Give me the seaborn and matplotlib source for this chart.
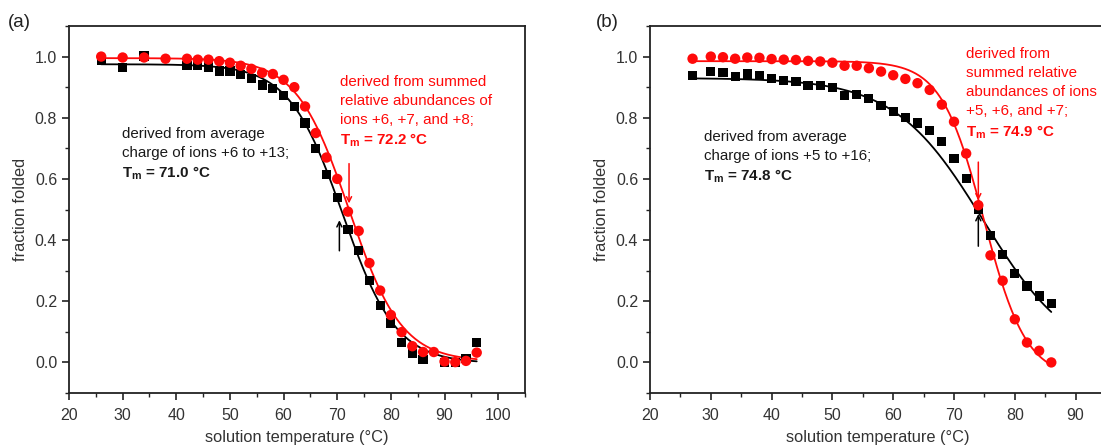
import numpy as np
import pandas as pd
import matplotlib
matplotlib.use("Agg")
import matplotlib.pyplot as plt
import seaborn as sns

# ---------------- data ----------------
# Panel (a)
a_red_T = [26, 30, 34, 38, 42, 44, 46, 48, 50, 52, 54, 56, 58, 60, 62, 64, 66, 68,
           70, 72, 74, 76, 78, 80, 82, 84, 86, 88, 90, 92, 94, 96]
a_red_f = [1.000, 0.997, 0.997, 0.993, 0.993, 0.990, 0.990, 0.985, 0.980, 0.970,
           0.960, 0.947, 0.943, 0.924, 0.900, 0.837, 0.750, 0.670, 0.600, 0.493,
           0.430, 0.325, 0.235, 0.155, 0.099, 0.053, 0.034, 0.034, 0.003, 0.001,
           0.005, 0.032]
a_blk_T = [26, 30, 34, 42, 44, 46, 48, 50, 52, 54, 56, 58, 60, 62, 64, 66, 68, 70,
           72, 74, 76, 78, 80, 82, 84, 86, 90, 92, 94, 96]
a_blk_f = [0.987, 0.965, 1.002, 0.972, 0.972, 0.966, 0.953, 0.953, 0.942, 0.929,
           0.907, 0.896, 0.873, 0.837, 0.783, 0.699, 0.615, 0.539, 0.434, 0.367,
           0.269, 0.187, 0.129, 0.064, 0.030, 0.009, 0.001, 0.000, 0.014, 0.064]

# Panel (b)
b_red_T = [27, 30, 32, 34, 36, 38, 40, 42, 44, 46, 48, 50, 52, 54, 56, 58, 60, 62,
           64, 66, 68, 70, 72, 74, 76, 78, 80, 82, 84, 86]
b_red_f = [0.993, 1.000, 0.998, 0.993, 0.997, 0.996, 0.992, 0.990, 0.989, 0.986,
           0.984, 0.980, 0.970, 0.970, 0.962, 0.951, 0.939, 0.927, 0.913, 0.891,
           0.843, 0.787, 0.683, 0.514, 0.350, 0.267, 0.141, 0.065, 0.038, 0.000]
b_blk_T = [27, 30, 32, 34, 36, 38, 40, 42, 44, 46, 48, 50, 52, 54, 56, 58, 60, 62,
           64, 66, 68, 70, 72, 74, 76, 78, 80, 82, 84, 86]
b_blk_f = [0.937, 0.952, 0.949, 0.936, 0.943, 0.937, 0.929, 0.922, 0.918, 0.905,
           0.905, 0.898, 0.872, 0.875, 0.864, 0.841, 0.821, 0.802, 0.783, 0.758,
           0.722, 0.667, 0.602, 0.500, 0.415, 0.354, 0.291, 0.250, 0.217, 0.193]

# Boltzmann fit parameters: (top, bottom, Tm, width, T_start, T_end)
a_red_fit = (0.995, 0.003, 72.2, 4.9, 26, 96)
a_blk_fit = (0.975, -0.003, 71.0, 5.0, 26, 96)
b_red_fit = (0.985, -0.050, 74.9, 3.5, 27, 86)
b_blk_fit = (0.930, 0.000, 74.8, 7.3, 27, 86)

# arrows: (x, y_from, y_to)
a_red_arrow = (72.2, 0.65, 0.52)
a_blk_arrow = (70.4, 0.365, 0.465)
b_red_arrow = (74.0, 0.655, 0.53)
b_blk_arrow = (74.0, 0.38, 0.485)

a_blk_text = ["derived from average", "charge of ions +6 to +13;", r"$\mathbf{T_m}$ = 71.0 °C"]
a_red_text = ["derived from summed", "relative abundances of", "ions +6, +7, and +8;", r"$\mathbf{T_m}$ = 72.2 °C"]
b_blk_text = ["derived from average", "charge of ions +5 to +16;", r"$\mathbf{T_m}$ = 74.8 °C"]
b_red_text = ["derived from", "summed relative", "abundances of ions", "+5, +6, and +7;", r"$\mathbf{T_m}$ = 74.9 °C"]

x_ticks_a = [20, 30, 40, 50, 60, 70, 80, 90, 100]
x_ticks_b = [20, 30, 40, 50, 60, 70, 80, 90]
y_ticks = [0.0, 0.2, 0.4, 0.6, 0.8, 1.0]

# ---------------- styling ----------------
sns.set_theme(style="ticks")
plt.rcParams["font.family"] = ["Liberation Sans", "DejaVu Sans"]
plt.rcParams["mathtext.fontset"] = "custom"
plt.rcParams["mathtext.rm"] = "Liberation Sans"
plt.rcParams["mathtext.bf"] = "Liberation Sans:bold"

RED = "#ff0a0a"
BLK = "#000000"
AX = "#222222"
TXT = "#333333"

fig = plt.figure(figsize=(11.01, 4.46), dpi=100)
W, H = 1101, 446
ax_a = fig.add_axes([69 / W, (446 - 393) / H, 456 / W, 367 / H])
ax_b = fig.add_axes([650 / W, (446 - 393) / H, 456 / W, 367 / H])


def boltz(params):
    top, bot, tm, dx, t0, t1 = params
    T = np.linspace(t0, t1, 300)
    f = bot + (top - bot) / (1 + np.exp((T - tm) / dx))
    return pd.DataFrame({"T": T, "f": f})


def panel(ax, redT, redf, blkT, blkf, redfit, blkfit, xlim, xticks):
    dr = boltz(redfit)
    dk = boltz(blkfit)
    sns.lineplot(data=dk, x="T", y="f", ax=ax, color=BLK, lw=1.3, zorder=2)
    sns.lineplot(data=dr, x="T", y="f", ax=ax, color=RED, lw=1.3, zorder=2)
    sns.scatterplot(x=blkT, y=blkf, ax=ax, marker="s", s=44, color=BLK,
                    edgecolor="none", zorder=3)
    sns.scatterplot(x=redT, y=redf, ax=ax, marker="o", s=56, color=RED,
                    edgecolor="none", zorder=4)
    ax.set_xlim(*xlim)
    ax.set_ylim(-0.1, 1.1)
    ax.set_xticks(xticks)
    ax.set_xticks(np.arange(xlim[0] + 5, xlim[1] + 0.1, 10), minor=True)
    ax.set_yticks(y_ticks)
    ax.set_yticklabels([f"{v:.1f}" for v in y_ticks])
    ax.set_yticks(np.arange(-0.1, 1.11, 0.2), minor=True)
    ax.tick_params(axis="x", which="major", pad=6)
    ax.tick_params(axis="both", which="major", direction="out", length=5, width=1.2,
                   color=AX, labelsize=11.5, labelcolor=TXT)
    ax.tick_params(axis="both", which="minor", direction="out", length=3, width=1.0,
                   color=AX)
    for s in ax.spines.values():
        s.set_color(AX)
        s.set_linewidth(1.3)
    ax.set_xlabel("solution temperature (°C)", fontsize=11.8, color=TXT, labelpad=5)
    ax.set_ylabel("fraction folded", fontsize=11.8, color=TXT, labelpad=5)


panel(ax_a, a_red_T, a_red_f, a_blk_T, a_blk_f, a_red_fit, a_blk_fit, (20, 105), x_ticks_a)
panel(ax_b, b_red_T, b_red_f, b_blk_T, b_blk_f, b_red_fit, b_blk_fit, (20, 95), x_ticks_b)


def arrow(ax, spec, color):
    x, y0, y1 = spec
    ax.annotate("", xy=(x, y1), xytext=(x, y0),
                arrowprops=dict(arrowstyle="->", color=color, lw=1.1,
                                shrinkA=0, shrinkB=0, mutation_scale=9))


arrow(ax_a, a_red_arrow, RED)
arrow(ax_a, a_blk_arrow, BLK)
arrow(ax_b, b_red_arrow, RED)
arrow(ax_b, b_blk_arrow, BLK)


def block(ax, x, ytop, lines, color, step=0.062):
    for i, line in enumerate(lines):
        bold = i == len(lines) - 1
        ax.text(x, ytop - i * step, line, color=color, fontsize=10.9,
                fontweight="bold" if bold else "normal", va="top", ha="left")


block(ax_a, 29.8, 0.77, a_blk_text, "#1a1a1a")
block(ax_a, 70.5, 0.94, a_red_text, RED)
block(ax_b, 28.9, 0.76, b_blk_text, "#1a1a1a")
block(ax_b, 72.0, 1.03, b_red_text, RED)

fig.text(8 / W, 1 - 14 / H, "(a)", fontsize=13.5, color="#222222", va="top", ha="left")
fig.text(596 / W, 1 - 14 / H, "(b)", fontsize=13.5, color="#222222", va="top", ha="left")

fig.savefig("out.png", dpi=100)
